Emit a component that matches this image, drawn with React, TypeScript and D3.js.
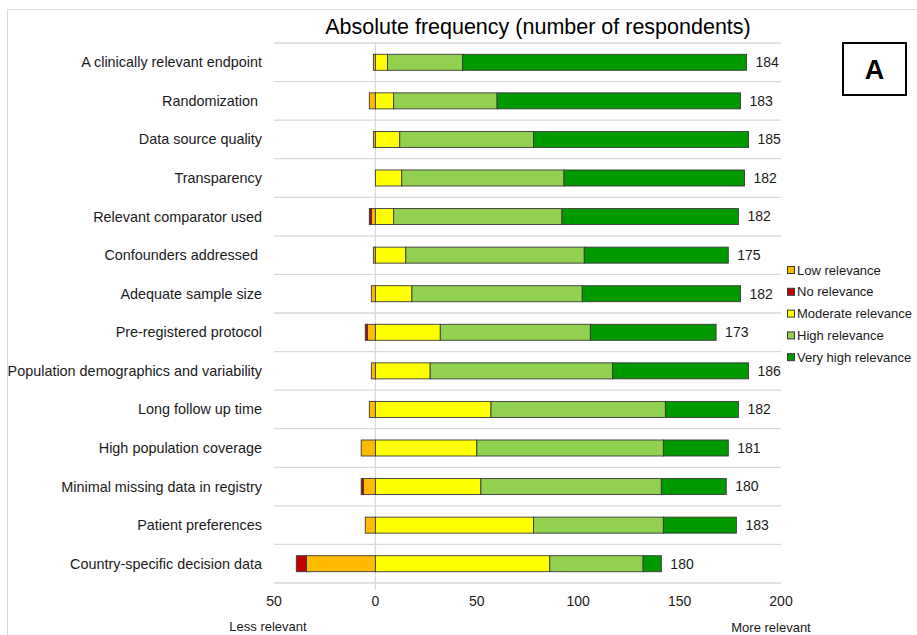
import React from "react";
import * as d3 from "d3";

// Survey items (top to bottom)
const categories = [
  "A clinically relevant endpoint",
  "Randomization ",
  "Data source quality",
  "Transparency",
  "Relevant comparator used",
  "Confounders addressed ",
  "Adequate sample size",
  "Pre-registered protocol",
  "Population demographics and variability",
  "Long follow up time",
  "High population coverage",
  "Minimal missing data in registry",
  "Patient preferences",
  "Country-specific decision data",
];

// Respondent counts per relevance level
const lowRelevance = [1, 3, 1, 0, 2, 1, 2, 4, 2, 3, 7, 6, 5, 34];
const noRelevance = [0, 0, 0, 0, 1, 0, 0, 1, 0, 0, 0, 1, 0, 5];
const moderateRelevance = [6, 9, 12, 13, 9, 15, 18, 32, 27, 57, 50, 52, 78, 86];
const highRelevance = [37, 51, 66, 80, 83, 88, 84, 74, 90, 86, 92, 89, 64, 46];
const veryHighRelevance = [140, 120, 106, 89, 87, 71, 78, 62, 67, 36, 32, 32, 36, 9];

const xTicks = [-50, 0, 50, 100, 150, 200];

const seriesKeys = ["low", "no", "moderate", "high", "veryHigh"];
const seriesLabels = [
  "Low relevance",
  "No relevance",
  "Moderate relevance",
  "High relevance",
  "Very high relevance",
];
const seriesColors = ["#FFBB00", "#C00000", "#FFFF00", "#92D050", "#009900"];

const W = 917;
const H = 635;
const FONT = "'Liberation Sans', Arial, sans-serif";

export default function App() {
  const rows = categories.map((c, i) => ({
    category: c,
    low: -lowRelevance[i],
    no: -noRelevance[i],
    moderate: moderateRelevance[i],
    high: highRelevance[i],
    veryHigh: veryHighRelevance[i],
    total:
      lowRelevance[i] +
      noRelevance[i] +
      moderateRelevance[i] +
      highRelevance[i] +
      veryHighRelevance[i],
  }));

  const stacked = d3
    .stack<any>()
    .keys(seriesKeys)
    .offset(d3.stackOffsetDiverging)(rows);

  const x = d3.scaleLinear().domain([-50, 200]).range([274, 781]);
  const p = 0.585;
  const y = d3
    .scaleBand<string>()
    .domain(categories)
    .range([43, 583])
    .paddingInner(p)
    .paddingOuter(p / 2);
  const step = y.step();
  const bh = y.bandwidth();

  const colorOf = d3.scaleOrdinal<string, string>().domain(seriesKeys).range(seriesColors);

  const posEnd = (i: number) =>
    moderateRelevance[i] + highRelevance[i] + veryHighRelevance[i];

  return (
    <svg
      width={W}
      height={H}
      style={{ position: "absolute", left: 0, top: 0, background: "#fff" }}
      fontFamily={FONT}
    >
      <rect x={7.5} y={9.5} width={W + 10} height={H + 10} fill="#fff" stroke="#d9d9d9" strokeWidth={1} />

      <text x={538} y={34} textAnchor="middle" fontSize={21.5} fill="#000">
        Absolute frequency (number of respondents)
      </text>

      {/* horizontal separators between categories */}
      {d3.range(categories.length + 1).map((k) => {
        const yy = 43 + k * step;
        return (
          <line key={k} x1={274} x2={781} y1={yy} y2={yy} stroke="#d9d9d9" strokeWidth={1.3} />
        );
      })}

      {/* zero line */}
      <line x1={x(0)} x2={x(0)} y1={43} y2={590} stroke="#d9d9d9" strokeWidth={1.3} />

      {/* stacked bars */}
      {stacked.map((s) =>
        s.map((seg, i) => {
          const x0 = x(Math.min(seg[0], seg[1]));
          const x1 = x(Math.max(seg[0], seg[1]));
          if (x1 - x0 <= 0) return null;
          return (
            <rect
              key={s.key + i}
              x={x0}
              y={y(categories[i])!}
              width={x1 - x0}
              height={bh}
              fill={colorOf(s.key)}
              stroke="#3a3a3a"
              strokeWidth={0.9}
            />
          );
        })
      )}

      {/* category labels */}
      {categories.map((c) => (
        <text
          key={c}
          x={262}
          y={y(c)! + bh / 2}
          dy="0.35em"
          textAnchor="end"
          fontSize={14.4}
          fill="#1a1a1a"
          style={{ whiteSpace: "pre" }}
        >
          {c}
        </text>
      ))}

      {/* totals */}
      {rows.map((r, i) => (
        <text
          key={"t" + i}
          x={x(posEnd(i)) + 9}
          y={y(r.category)! + bh / 2}
          dy="0.35em"
          fontSize={14}
          fill="#1a1a1a"
        >
          {r.total}
        </text>
      ))}

      {/* x axis tick labels */}
      {xTicks.map((t) => (
        <text key={t} x={x(t)} y={601} dy="0.35em" textAnchor="middle" fontSize={14} fill="#1a1a1a">
          {Math.abs(t)}
        </text>
      ))}
      <text x={268} y={626} dy="0.35em" textAnchor="middle" fontSize={13} fill="#1a1a1a">
        Less relevant
      </text>
      <text x={771} y={627} dy="0.35em" textAnchor="middle" fontSize={13} fill="#1a1a1a">
        More relevant
      </text>

      {/* legend */}
      {seriesLabels.map((lab, k) => {
        const cy = 270 + k * 21.8;
        return (
          <g key={lab}>
            <rect x={787.5} y={cy - 3.5} width={7} height={7} fill={seriesColors[k]} stroke="#3a3a3a" strokeWidth={1} />
            <text x={797} y={cy} dy="0.35em" fontSize={13} fill="#1a1a1a">
              {lab}
            </text>
          </g>
        );
      })}

      {/* panel marker */}
      <rect x={843} y={43} width={63} height={52} fill="#fff" stroke="#000" strokeWidth={2} />
      <text x={874.5} y={69} dy="0.36em" textAnchor="middle" fontSize={27} fontWeight="bold" fill="#000">
        A
      </text>
    </svg>
  );
}
